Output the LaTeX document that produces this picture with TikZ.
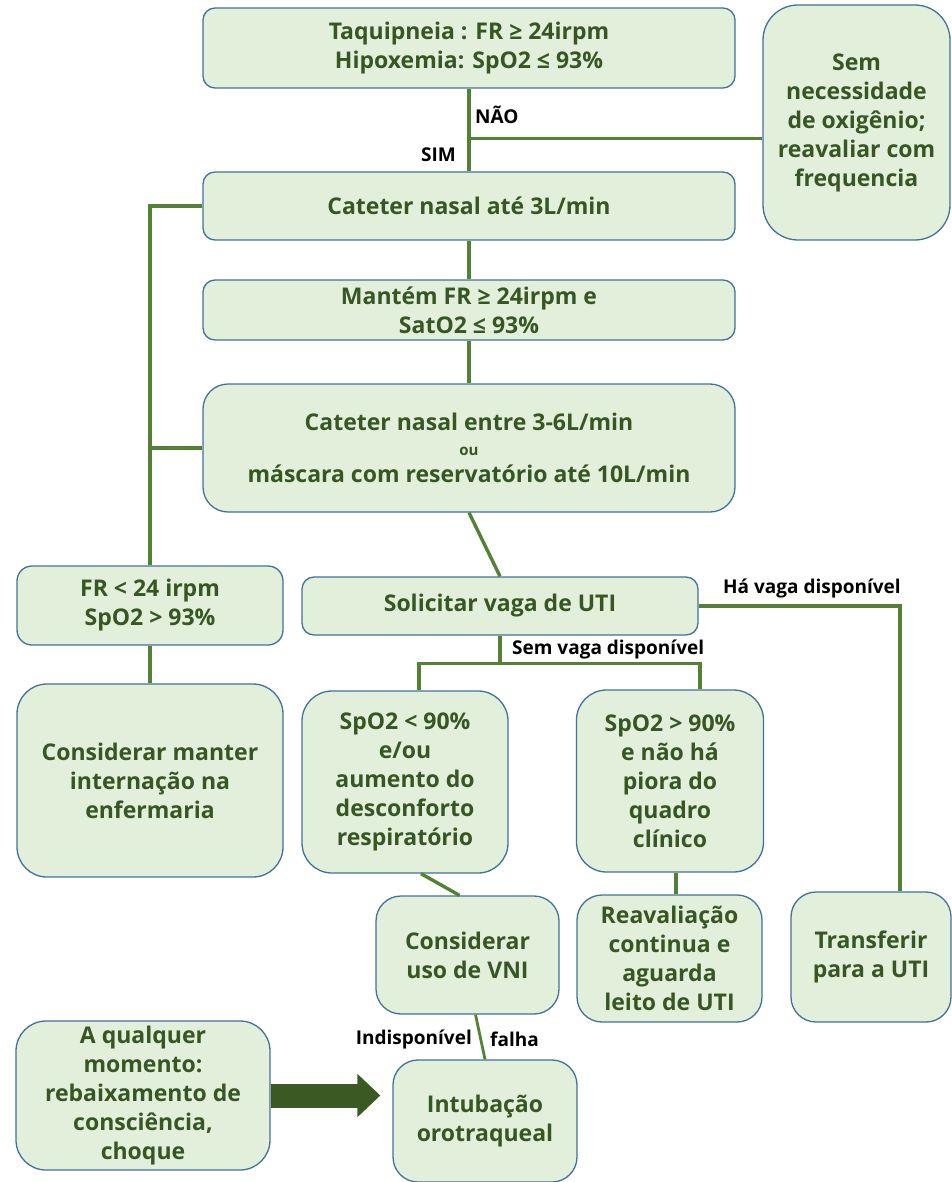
\documentclass[tikz,border=0pt]{standalone}
\usepackage{fontspec}
\setmainfont{Open Sans}
\usetikzlibrary{arrows.meta,calc}
\definecolor{boxfill}{HTML}{E2EFDA}
\definecolor{boxdraw}{HTML}{41719C}
\definecolor{boxtext}{HTML}{375623}
\definecolor{linecol}{HTML}{548235}
\definecolor{arrowcol}{HTML}{3B5A22}
\tikzset{
  box/.style={draw=boxdraw, fill=boxfill, line width=1.3pt, text=boxtext,
    font=\bfseries\fontsize{23}{29}\selectfont, align=center, inner sep=0pt, rounded corners=#1},
  box/.default=12pt,
  conn/.style={draw=linecol, line width=3.4pt},
  lbl/.style={font=\bfseries\fontsize{19}{20}\selectfont, text=black, inner sep=0pt}
}
\begin{document}
\begin{tikzpicture}[x=1pt,y=-1pt]
\useasboundingbox (0,0) rectangle (951,1182);
% boxes
\node[box, minimum width=532pt, minimum height=80pt] (top) at (469,48) {Taquipneia : FR ≥ 24irpm\\Hipoxemia: SpO2 ≤ 93\%};
\node[box=35pt, minimum width=187pt, minimum height=235pt] (right) at (856.5,122.5) {Sem\\necessidade\\de oxigênio;\\reavaliar com\\frequencia};
\node[box, minimum width=532pt, minimum height=68pt] (cat1) at (469,206) {Cateter nasal até 3L/min};
\node[box, minimum width=532pt, minimum height=60pt] (mant) at (469,310) {Mantém FR ≥ 24irpm e\\SatO2 ≤ 93\%};
\node[box=25pt, minimum width=532pt, minimum height=128pt] (cat2) at (469,448) {Cateter nasal entre 3-6L/min\\[-4pt]{\fontsize{15}{15}\selectfont ou}\\[-2pt]máscara com reservatório até 10L/min};
\node[box=15pt, minimum width=266pt, minimum height=79pt] (fr) at (150,605.5) {FR < 24 irpm\\SpO2 > 93\%};
\node[box=30pt, minimum width=266pt, minimum height=193pt] (cons) at (150,780.5) {Considerar manter\\internação na\\enfermaria};
\node[box, minimum width=396pt, minimum height=58pt] (sol) at (500,606) {Solicitar vaga de UTI};
\node[box=30pt, minimum width=206pt, minimum height=182pt] (b9) at (405,782) {SpO2 < 90\%\\e/ou\\aumento do\\desconforto\\respiratório};
\node[box=30pt, minimum width=187pt, minimum height=182pt] (b10) at (670,781) {SpO2 > 90\%\\e não há\\piora do\\quadro\\clínico};
\node[box=25pt, minimum width=183pt, minimum height=118pt] (vni) at (467.5,955) {Considerar\\uso de VNI};
\node[box=25pt, minimum width=185pt, minimum height=127pt] (reav) at (669.5,958.5) {Reavaliação\\continua e\\aguarda\\leito de UTI};
\node[box=25pt, minimum width=160pt, minimum height=130pt] (trans) at (871,957) {Transferir\\para a UTI};
\node[box=30pt, minimum width=254pt, minimum height=149pt] (aq) at (143,1095.5) {A qualquer\\momento:\\rebaixamento de\\consciência,\\choque};
\node[box=25pt, minimum width=184pt, minimum height=122pt] (intub) at (485,1121) {Intubação\\orotraqueal};
% connectors
\draw[conn] (top.south) -- (cat1.north);
\draw[conn] (top.south) ++(0,50) coordinate (nb) -- (nb -| right.west);
\node[lbl, anchor=west] (nao) at (475,115) {NÃO};
\node[lbl, anchor=east] (sim) at (456,155) {SIM};
\draw[conn] (cat1.west) -- (cat1.west -| fr.north) -- (fr.north);
\draw[conn] (cat2.west) -- (cat2.west -| fr.north);
\draw[conn] (cat1.south) -- (mant.north);
\draw[conn] (mant.south) -- (cat2.north);
\draw[conn] (cat2.south) -- (sol.north);
\draw[conn] (sol.east) -| ([xshift=29]trans.north);
\node[lbl, anchor=west] (ha) at (723,588) {Há vaga disponível};
\draw[conn] (sol.south) -- ++(0,28) coordinate (sv);
\draw[conn] ([xshift=14]b9.north) -- ([xshift=14]b9.north |- sv) -- ([xshift=30]b10.north |- sv) -- ([xshift=30]b10.north);
\node[lbl, anchor=west] (sem) at (512,649) {Sem vaga disponível};
\draw[conn] (fr.south) -- (cons.north);
\draw[conn] ([xshift=16]b9.south) -- ([xshift=-8]vni.north);
\draw[conn] ([xshift=6]b10.south) -- ([xshift=6]b10.south |- reav.north);
\draw[conn, line width=2.8pt] ([xshift=8]vni.south) -- (intub.north);
\node[lbl, anchor=east] (indisp) at (472,1039) {Indisponível};
\node[lbl, anchor=west] (falha) at (490,1039) {falha};
\draw[draw=arrowcol, line width=24pt, -{Triangle[length=23pt,width=42pt]}] (aq.east) -- ([xshift=-12]intub.west |- aq.east);
\end{tikzpicture}
\end{document}
